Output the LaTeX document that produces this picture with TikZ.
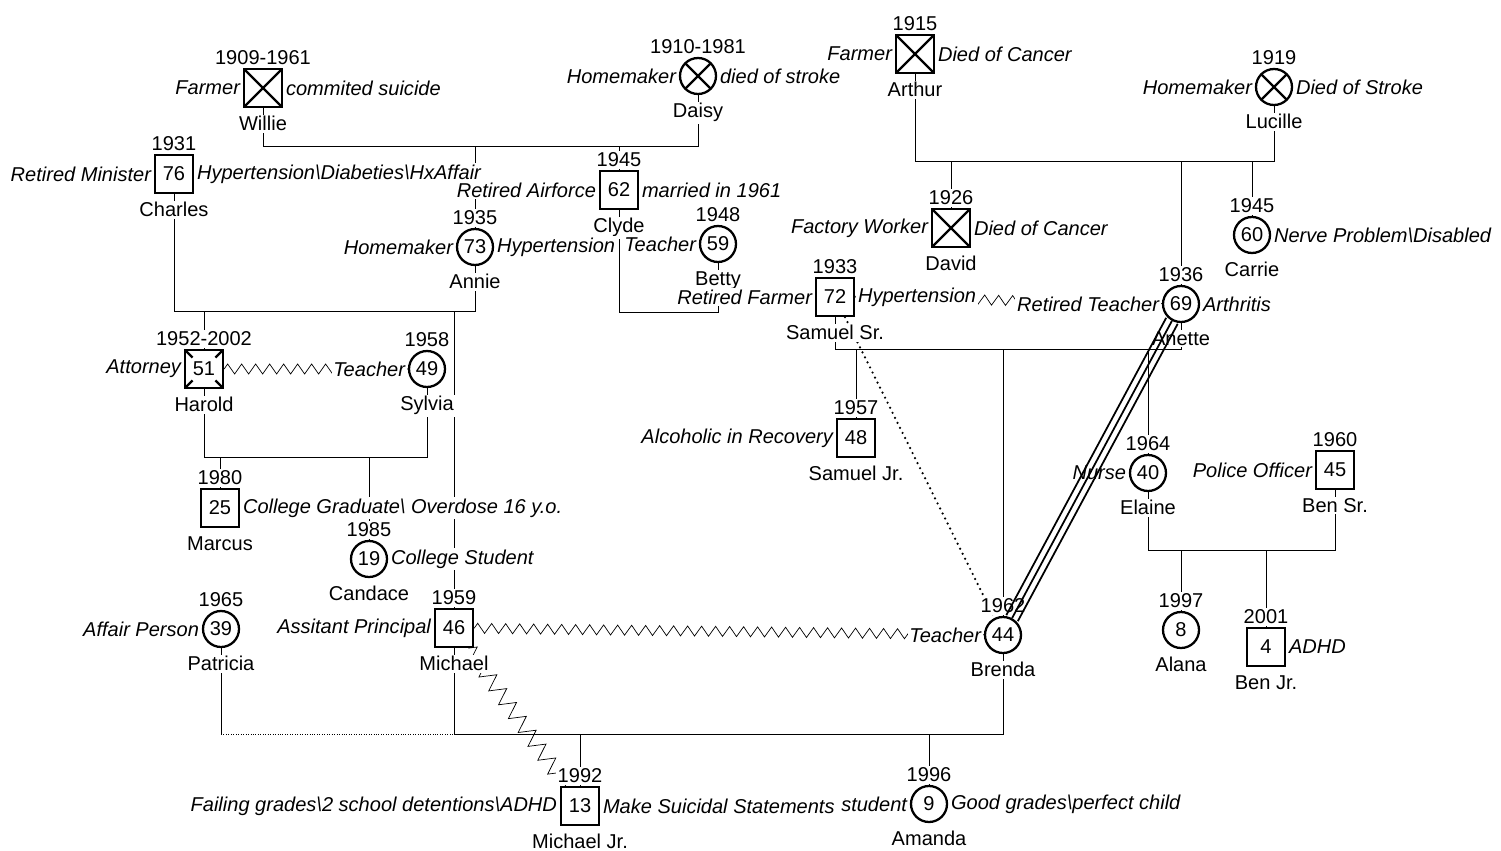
\documentclass[tikz,border=0pt]{standalone}
\usepackage{fontspec}
\setmainfont{Liberation Sans}
\usetikzlibrary{decorations.pathmorphing}
\pgfdeclarelayer{bg}
\pgfsetlayers{bg,main}

\begin{document}
\begin{tikzpicture}[
  x=0.02cm, y=-0.02cm,
  line width=1.3pt,
  font=\fontsize{11.4}{13.7}\selectfont,
  male/.style={draw, fill=white, minimum size=0.76cm, inner sep=0pt},
  female/.style={draw, fill=white, circle, minimum size=0.72cm, inner sep=0pt},
  dead/.style={path picture={
    \draw (path picture bounding box.north west) -- (path picture bounding box.south east)
          (path picture bounding box.north east) -- (path picture bounding box.south west);}},
  cornerx/.style={path picture={
    \draw (path picture bounding box.north west) -- ++(0.15cm,-0.15cm)
          (path picture bounding box.north east) -- ++(-0.15cm,-0.15cm)
          (path picture bounding box.south west) -- ++(0.15cm,0.15cm)
          (path picture bounding box.south east) -- ++(-0.15cm,0.15cm);}},
  every label/.style={fill=white, inner sep=1pt},
  label distance=0pt,
  yr/.style={},
  nm/.style={yshift=-3pt},
  job/.style={font=\fontsize{11.4}{13.7}\selectfont\itshape},
  zz/.style={decorate, decoration={zigzag, segment length=0.28cm, amplitude=0.1cm}},
  distant/.style={line width=1.4pt, line cap=round, dash pattern=on 0pt off 3.2pt}
]
\useasboundingbox (0,0) rectangle (1501,851);

\node[male, dead, label={[yr]above:1909-1961}, label={[job]left:Farmer}, label={[job]right:commited suicide}, label={[nm]below:Willie}] (willie) at (263,88) {};
\node[female, dead, label={[yr]above:1910-1981}, label={[job]left:Homemaker}, label={[job]right:died of stroke}, label={[nm]below:Daisy}] (daisy) at (698,76) {};
\node[male, dead, label={[yr]above:1915}, label={[job]left:Farmer}, label={[job]right:Died of Cancer}, label={[nm]below:Arthur}] (arthur) at (915,54) {};
\node[female, dead, label={[yr]above:1919}, label={[job]left:Homemaker}, label={[job]right:Died of Stroke}, label={[nm]below:Lucille}] (lucille) at (1274,87) {};

\node[male, label={[yr]above:1931}, label={[job]left:Retired Minister}, label={[job]right:Hypertension\textbackslash Diabeties\textbackslash HxAffair}, label={[nm]below:Charles}] (charles) at (174,174) {76};
\node[male, label={[yr]above:1945}, label={[job]left:Retired Airforce}, label={[job]right:married in 1961}, label={[nm]below:Clyde}] (clyde) at (619,190) {62};
\node[female, label={[yr]above:1935}, label={[job]left:Homemaker}, label={[job]right:Hypertension}, label={[nm]below:Annie}] (annie) at (475,247) {73};
\node[female, label={[yr]above:1948}, label={[job]left:Teacher}, label={[nm]below:Betty}] (betty) at (718,244) {59};
\node[male, dead, label={[yr]above:1926}, label={[job]left:Factory Worker}, label={[job]right:Died of Cancer}, label={[nm]below:David}] (david) at (951,228) {};
\node[female, label={[yr]above:1945}, label={[job]right:Nerve Problem\textbackslash Disabled}, label={[nm]below:Carrie}] (carrie) at (1252,235) {60};
\node[male, label={[yr]above:1933}, label={[job]left:Retired Farmer}, label={[job]right:Hypertension}, label={[nm]below:Samuel Sr.}] (samsr) at (835,297) {72};
\node[female, label={[yr]above:1936}, label={[job]left:Retired Teacher}, label={[job]right:Arthritis}, label={[nm]below:Anette}] (anette) at (1181,304) {69};

\node[male, cornerx, label={[yr]above:1952-2002}, label={[job]left:Attorney}, label={[nm]below:Harold}] (harold) at (204,369) {51};
\node[female, label={[yr]above:1958}, label={[job]left:Teacher}, label={[nm]below:Sylvia}] (sylvia) at (427,369) {49};
\node[male, label={[yr]above:1957}, label={[job]left:Alcoholic in Recovery}, label={[nm]below:Samuel Jr.}] (samjr) at (856,438) {48};
\node[female, label={[yr]above:1964}, label={[job]left:Nurse}, label={[nm]below:Elaine}] (elaine) at (1148,473) {40};
\node[male, label={[yr]above:1960}, label={[job]left:Police Officer}, label={[nm]below:Ben Sr.}] (bensr) at (1335,470) {45};
\node[male, label={[yr]above:1980}, label={[job]right:College Graduate\textbackslash{} Overdose 16 y.o.}, label={[nm]below:Marcus}] (marcus) at (220,508) {25};
\node[female, label={[yr]above:1985}, label={[job]right:College Student}, label={[nm]below:Candace}] (candace) at (369,559) {19};

\node[female, label={[yr]above:1965}, label={[job]left:Affair Person}, label={[nm]below:Patricia}] (patricia) at (221,629) {39};
\node[male, label={[yr]above:1959}, label={[job]left:Assitant Principal}, label={[nm]below:Michael}] (michael) at (454,628) {46};
\node[female, label={[yr]above:1962}, label={[job]left:Teacher}, label={[nm]below:Brenda}] (brenda) at (1003,635) {44};
\node[female, label={[yr]above:1997}, label={[nm]below:Alana}] (alana) at (1181,630) {8};
\node[male, label={[yr]above:2001}, label={[job]right:ADHD}, label={[nm]below:Ben Jr.}] (benjr) at (1266,647) {4};
\node[male, label={[yr]above:1992}, label={[job]left:Failing grades\textbackslash 2 school detentions\textbackslash ADHD}, label={[job]right:Make Suicidal Statements}, label={[nm]below:Michael Jr.}] (michaeljr) at (580,806) {13};
\node[female, label={[yr]above:1996}, label={[job]left:student}, label={[job]right:Good grades\textbackslash perfect child}, label={[nm]below:Amanda}] (amanda) at (929,804) {9};

\begin{pgfonlayer}{bg}
\draw (willie) -- (willie |- 0,146) -| (daisy);
\draw (annie) -- (annie |- 0,146);
\draw (clyde) -- (clyde |- 0,146);
\draw (arthur) -- (arthur |- 0,161) -| (lucille);
\draw (david) -- (david |- 0,161);
\draw (anette) -- (anette |- 0,161);
\draw (carrie) -- (carrie |- 0,161);
\draw (charles) -- (charles |- 0,311) -| (annie);
\draw (harold) -- (harold |- 0,311);
\draw (michael) -- (michael |- 0,311);
\draw (clyde) -- (clyde |- 0,312) -| (betty);
\draw (samsr) -- (samsr |- 0,349) -| (anette);
\draw (samjr) -- (samjr |- 0,349);
\draw (brenda) -- (brenda |- 0,349);
\draw (elaine) -- (elaine |- 0,349);
\draw (harold) -- (harold |- 0,457) -| (sylvia);
\draw (marcus) -- (marcus |- 0,457);
\draw (candace) -- (candace |- 0,457);
\draw (elaine) -- (elaine |- 0,550) -| (bensr);
\draw (alana) -- (alana |- 0,550);
\draw (benjr) -- (benjr |- 0,550);
\draw (michael) -- (michael |- 0,734) -| (brenda);
\draw (michaeljr) -- (michaeljr |- 0,734);
\draw (amanda) -- (amanda |- 0,734);
\draw (patricia) -- (patricia |- 0,734);
\draw[densely dotted] (patricia |- 0,734) -- (michael |- 0,734);
\draw[zz] (harold) -- (sylvia);
\draw[zz] (samsr) -- (anette);
\draw[zz] (michael) -- (brenda);
\draw[zz, decoration={segment length=0.34cm, amplitude=0.16cm}] (michael) -- (michaeljr);
\draw[distant] (samsr) -- (brenda);
\end{pgfonlayer}

\draw[line width=1pt] (anette) -- (brenda);
\draw[line width=1pt, transform canvas={xshift=0.115cm, yshift=-0.06cm}] (anette) -- (brenda);
\draw[line width=1pt, transform canvas={xshift=-0.115cm, yshift=0.06cm}] (anette) -- (brenda);
\end{tikzpicture}
\end{document}
